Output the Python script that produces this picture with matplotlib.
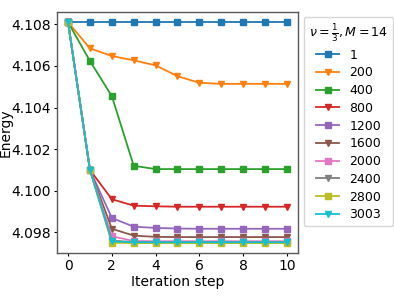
import matplotlib
matplotlib.use('Agg')
import matplotlib.pyplot as plt

steps = list(range(11))
labels = ['1', '200', '400', '800', '1200', '1600', '2000', '2400', '2800', '3003']

e_1 = [4.10810] * 11
e_200 = [4.10810, 4.10685, 4.10648, 4.10627, 4.10603, 4.10551, 4.10519, 4.10514, 4.10514, 4.10514, 4.10514]
e_400 = [4.10810, 4.10624, 4.10455, 4.10120, 4.10104, 4.10104, 4.10104, 4.10104, 4.10104, 4.10104, 4.10104]
e_800 = [4.10810, 4.10100, 4.09959, 4.09928, 4.09925, 4.09923, 4.09923, 4.09923, 4.09923, 4.09923, 4.09923]
e_1200 = [4.10810, 4.10100, 4.09869, 4.09827, 4.09821, 4.09818, 4.09817, 4.09817, 4.09817, 4.09817, 4.09817]
e_1600 = [4.10810, 4.10100, 4.09817, 4.09784, 4.09778, 4.09777, 4.09777, 4.09777, 4.09777, 4.09777, 4.09777]
e_2000 = [4.10810, 4.10100, 4.09781, 4.09758, 4.09757, 4.09757, 4.09757, 4.09757, 4.09757, 4.09757, 4.09757]
e_2400 = [4.10810, 4.10100, 4.09760, 4.09753, 4.09753, 4.09753, 4.09753, 4.09753, 4.09753, 4.09753, 4.09753]
e_2800 = [4.10810, 4.10100, 4.09750, 4.09748, 4.09748, 4.09748, 4.09748, 4.09748, 4.09748, 4.09748, 4.09748]
e_3003 = [4.10810, 4.10100, 4.09756, 4.09752, 4.09752, 4.09752, 4.09752, 4.09752, 4.09752, 4.09752, 4.09752]

series = [e_1, e_200, e_400, e_800, e_1200, e_1600, e_2000, e_2400, e_2800, e_3003]

fig = plt.figure(figsize=(3.94, 2.96), dpi=100)
ax = fig.add_axes([0.145, 0.145, 0.611, 0.814])

for i, (lab, vals) in enumerate(zip(labels, series)):
    mk = 's' if i % 2 == 0 else 'v'
    ax.plot(steps, vals, marker=mk, markersize=4.5, linewidth=1.3, label=lab)

ax.set_xlabel('Iteration step', labelpad=1)
ax.set_ylabel('Energy')
ax.yaxis.set_label_coords(-0.185, 0.5)
ax.set_xticks([0, 2, 4, 6, 8, 10])
ax.set_yticks([4.098, 4.100, 4.102, 4.104, 4.106, 4.108])
ax.set_ylim(4.0970, 4.10859)
ax.tick_params(length=2.5, pad=2)
for sp in ax.spines.values():
    sp.set_color('0.35')
    sp.set_linewidth(1.0)

leg = ax.legend(title=r'$\nu=\frac{1}{3}, M=14$', loc='upper left',
                bbox_to_anchor=(1.025, 0.98), borderaxespad=0,
                fontsize=9, title_fontsize=9, handlelength=1.9,
                labelspacing=0.38)

plt.savefig('out.png', dpi=100)
